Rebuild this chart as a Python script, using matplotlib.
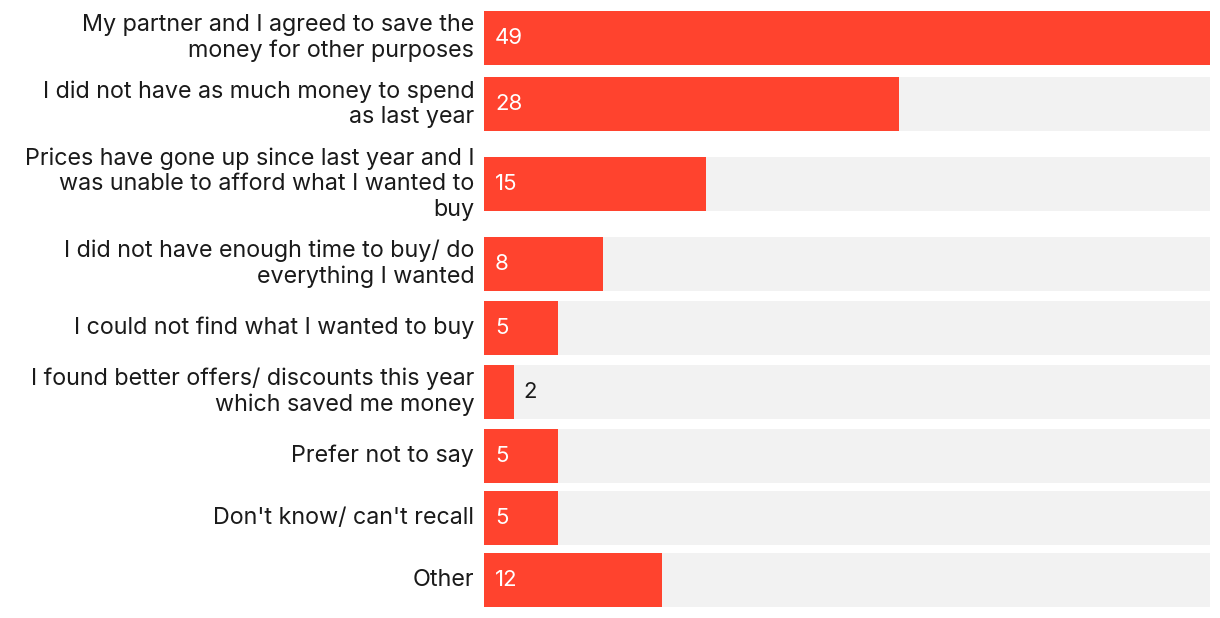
import matplotlib
matplotlib.use("Agg")
import matplotlib.pyplot as plt

categories = [
    "My partner and I agreed to save the\nmoney for other purposes",
    "I did not have as much money to spend\nas last year",
    "Prices have gone up since last year and I\nwas unable to afford what I wanted to\nbuy",
    "I did not have enough time to buy/ do\neverything I wanted",
    "I could not find what I wanted to buy",
    "I found better offers/ discounts this year\nwhich saved me money",
    "Prefer not to say",
    "Don't know/ can't recall",
    "Other",
]
values = [49, 28, 15, 8, 5, 2, 5, 5, 12]

RED = "#FF432E"
GRAY = "#F2F2F2"
FONT = ["Inter", "DejaVu Sans"]

# row heights depend on number of label lines (in pixel-like units)
row_h = {1: 62, 2: 66, 3: 94}
centers = []
pos = 0
prev = None
for i, c in enumerate(categories):
    h = row_h[c.count("\n") + 1]
    if i == 0:
        pos = 5 + h / 2
    else:
        pos += (prev + h) / 2
    centers.append(pos)
    prev = h

fig = plt.figure(figsize=(12.2, 6.18), dpi=100)
ax = fig.add_axes([484 / 1220, 0, (1210 - 484) / 1220, 1])
ax.set_xlim(0, max(values))
ax.set_ylim(618, 0)
ax.axis("off")

bh = 54
vmax = max(values)
ax.barh(centers, [vmax] * len(values), height=bh, color=GRAY, linewidth=0)
ax.barh(centers, values, height=bh, color=RED, linewidth=0)

for c, v, lab in zip(centers, values, categories):
    ax.annotate(lab, xy=(0, c), xytext=(-7, 0), textcoords="offset points",
                ha="right", va="center", fontsize=16.8, family=FONT,
                color="#1a1a1a", linespacing=1.2, annotation_clip=False)
    if v >= 4:
        ax.annotate(str(v), xy=(0, c), xytext=(8, 0), textcoords="offset points",
                    ha="left", va="center", fontsize=16, family=FONT, color="white")
    else:
        ax.annotate(str(v), xy=(v, c), xytext=(7, 0), textcoords="offset points",
                    ha="left", va="center", fontsize=16, family=FONT, color="#1a1a1a")

fig.savefig("out.png", dpi=100)
